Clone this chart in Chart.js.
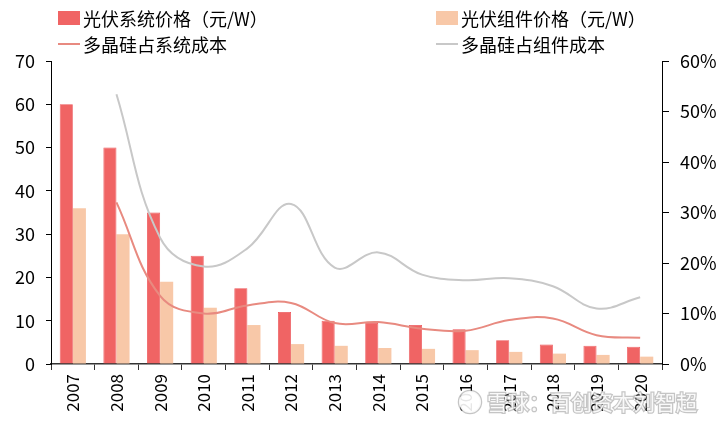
<!DOCTYPE html>
<html>
<head>
<meta charset="utf-8">
<script src="https://cdn.jsdelivr.net/npm/chart.js@4.4.1/dist/chart.umd.min.js"></script>
<style>
  html, body { margin: 0; padding: 0; background: #fff; }
  #wrap { position: relative; width: 723px; height: 423px; }
  #legend { position: absolute; left: 0; top: 0; width: 723px; height: 60px;
            font-family: "Noto Sans CJK SC", sans-serif; font-size: 18px; color: #000; }
  .item { position: absolute; display: flex; align-items: center; height: 26px; white-space: nowrap; }
  .box { width: 22px; height: 14px; margin-right: 3px; }
  .ln { width: 22px; height: 2px; margin-right: 3px; }
</style>
</head>
<body>
<div id="wrap">
  <canvas id="c" width="723" height="423"></canvas>
  <div id="legend"></div>
</div>
<script>
// data
const years = ['2007','2008','2009','2010','2011','2012','2013','2014','2015','2016','2017','2018','2019','2020'];
const systemPrice = [60, 50, 35, 25, 17.5, 12, 10, 9.5, 9, 8, 5.5, 4.5, 4.2, 4];
const modulePrice = [36, 30, 19, 13, 9, 4.6, 4.2, 3.7, 3.5, 3.2, 2.8, 2.4, 2.1, 1.7];
const siShareSystem = [null, 32, 13.5, 10, 11.6, 12.1, 8.1, 8.3, 7, 6.6, 8.7, 9, 5.7, 5.2];
const siShareModule = [null, 53.4, 25, 19.3, 22.9, 31.7, 19.1, 22.1, 17.7, 16.6, 17, 15.4, 11, 13.2];
const leftTicks = [0, 10, 20, 30, 40, 50, 60, 70];
const rightTicks = [0, 10, 20, 30, 40, 50, 60];

const RED = 'rgb(240,100,100)';
const PEACH = 'rgb(248,200,168)';
const RED_LINE = 'rgb(232,138,128)';
const GRAY_LINE = 'rgb(200,200,200)';
const FONT = '"Noto Sans CJK SC", sans-serif';

const datasets = [
  { type: 'bar', label: '光伏系统价格（元/W）', data: systemPrice, backgroundColor: RED,
    borderColor: 'rgb(236,80,84)', borderWidth: 0.8, yAxisID: 'y', order: 2 },
  { type: 'bar', label: '光伏组件价格（元/W）', data: modulePrice, backgroundColor: PEACH,
    borderWidth: 0, yAxisID: 'y', order: 2 },
  { type: 'line', label: '多晶硅占系统成本', data: siShareSystem, borderColor: RED_LINE,
    borderWidth: 2, pointRadius: 0, tension: 0.4, yAxisID: 'y1', order: 1 },
  { type: 'line', label: '多晶硅占组件成本', data: siShareModule, borderColor: GRAY_LINE,
    borderWidth: 2, pointRadius: 0, tension: 0.4, yAxisID: 'y1', order: 1 }
];

// legend, 2 x 2 grid
const legendPos = [[58, 5], [436, 5], [58, 31], [436, 31]];
const lg = document.getElementById('legend');
datasets.forEach((d, i) => {
  const it = document.createElement('div');
  it.className = 'item';
  it.style.left = legendPos[i][0] + 'px';
  it.style.top = legendPos[i][1] + 'px';
  const m = document.createElement('span');
  if (d.type === 'bar') { m.className = 'box'; m.style.background = d.backgroundColor; }
  else { m.className = 'ln'; m.style.background = d.borderColor; }
  it.appendChild(m);
  it.appendChild(document.createTextNode(d.label));
  lg.appendChild(it);
});

const watermark = {
  id: 'watermark',
  afterDraw(chart) {
    const ctx = chart.ctx;
    ctx.save();
    ctx.font = '21px ' + FONT;
    ctx.textBaseline = 'middle';
    ctx.lineWidth = 2.5;
    ctx.strokeStyle = 'rgba(150,150,150,0.55)';
    ctx.fillStyle = 'rgba(255,255,255,0.9)';
    ctx.strokeText('雪球：百创资本刘智超', 487, 402);
    ctx.fillText('雪球：百创资本刘智超', 487, 402);
    ctx.beginPath();
    ctx.arc(470, 402, 11, 0, Math.PI * 2);
    ctx.stroke();
    ctx.fill();
    ctx.restore();
  }
};

new Chart(document.getElementById('c'), {
  data: { labels: years, datasets: datasets },
  plugins: [watermark],
  options: {
    responsive: false,
    animation: false,
    layout: { padding: { top: 61, right: 0, left: 0, bottom: 0 } },
    plugins: { legend: { display: false }, tooltip: { enabled: false } },
    datasets: { bar: { categoryPercentage: 0.6, barPercentage: 1.0 } },
    scales: {
      x: {
        offset: true,
        grid: { display: true, offset: true, drawOnChartArea: false, color: '#333', tickLength: 6 },
        border: { color: '#333', width: 1.5 },
        ticks: { color: '#000', font: { family: FONT, size: 17 }, minRotation: 90, maxRotation: 90, padding: 4 },
        afterFit(s) { s.height = 59; }
      },
      y: {
        position: 'left', min: 0, max: 70,
        afterBuildTicks(s) { s.ticks = leftTicks.map(v => ({ value: v })); },
        grid: { display: true, drawOnChartArea: false, color: '#000', tickLength: 5 },
        border: { color: '#000', width: 1 },
        ticks: { color: '#000', font: { family: FONT, size: 18 }, padding: 11 },
        afterFit(s) { s.width = 51; }
      },
      y1: {
        position: 'right', min: 0, max: 60,
        afterBuildTicks(s) { s.ticks = rightTicks.map(v => ({ value: v })); },
        grid: { display: true, drawOnChartArea: false, color: '#000', tickLength: 7 },
        border: { color: '#000', width: 1 },
        ticks: { color: '#000', font: { family: FONT, size: 18 }, padding: 11, callback: v => v + '%' },
        afterFit(s) { s.width = 61; }
      }
    }
  }
});
</script>
</body>
</html>
